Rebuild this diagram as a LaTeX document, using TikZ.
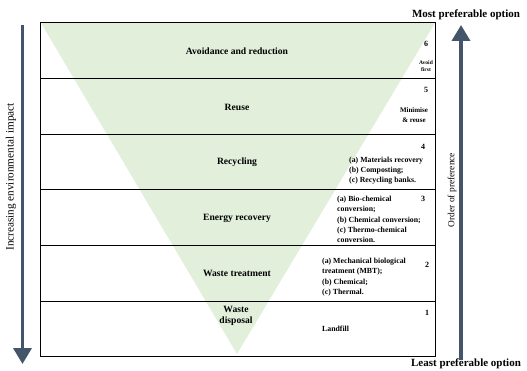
\documentclass[tikz,border=0pt]{standalone}
\usepackage{fontspec}
\setmainfont{Liberation Serif}
\usetikzlibrary{arrows.meta,positioning}
\definecolor{hiergreen}{RGB}{226,239,218}
\definecolor{arrowblue}{RGB}{68,84,106}
\begin{document}
\begin{tikzpicture}[x=1pt, y=-1pt,
  level/.style={font=\bfseries\fontsize{9.6}{11.5}\selectfont, align=center},
  note/.style={font=\bfseries\fontsize{7.8}{10.3}\selectfont, align=left, anchor=west, inner sep=0pt},
  num/.style={font=\bfseries\fontsize{8}{9}\selectfont, inner sep=0pt},
  side/.style={font=\bfseries\fontsize{11}{13}\selectfont},
  bigarrow/.style={arrowblue, line width=3.5pt, -{Triangle[length=16pt,width=18pt]}}]
\useasboundingbox (0,0) rectangle (527,371);
% green triangle behind the rows
\fill[hiergreen] (41,23) -- (435,23) -- (237,354) -- cycle;
\draw[line width=1pt] (40,23) rectangle (435,356);
\foreach \y in {79,135,190,246,301}
  \draw[line width=1pt] (40,\y) -- (435,\y);
% levels
\node[level] (avoid) at (237,51) {Avoidance and reduction};
\node[level] (reuse) at (237,107) {Reuse};
\node[level] (recyc) at (237,162) {Recycling};
\node[level] (energy) at (237,218) {Energy recovery};
\node[level] (treat) at (237,273) {Waste treatment};
\node[level] (disp) at (236,316) {Waste\\disposal};
% numbers and notes
\node[num] (n6) at (426,44) {6};
\node[font=\bfseries\fontsize{5.5}{7}\selectfont, align=center, inner sep=0pt] (avoidfirst) at (426,66) {Avoid\\first};
\node[num] (n5) at (426,90) {5};
\node[font=\bfseries\fontsize{7}{9.5}\selectfont, align=center, inner sep=0pt] (minim) at (414,115) {Minimise\\\& reuse};
\node[num] (n4) at (423,147) {4};
\node[note] (recnote) at (349,170.5) {(a) Materials recovery\\(b) Composting;\\(c) Recycling banks.};
\node[num] (n3) at (423,199) {3};
\node[note, font=\bfseries\fontsize{7.8}{10.2}\selectfont] (ennote) at (337,219.5) {(a) Bio-chemical\\conversion;\\(b) Chemical conversion;\\(c) Thermo-chemical\\conversion.};
\node[num] (n2) at (427,265) {2};
\node[note] (trnote) at (322,277) {(a) Mechanical biological\\treatment (MBT);\\(b) Chemical;\\(c) Thermal.};
\node[num] (n1) at (427,313) {1};
\node[note] (landfill) at (322,329) {Landfill};
% side arrows
\coordinate (ltop) at (22.5,25);
\coordinate (lbot) at (22.5,364);
\draw[bigarrow] (ltop) -- (lbot);
\node[font=\fontsize{11.2}{13}\selectfont, rotate=90] (impact) at (11,177) {Increasing environmental impact};
\coordinate (rbot) at (461,360);
\coordinate (rtop) at (461,25);
\draw[bigarrow] (rbot) -- (rtop);
\node[font=\fontsize{9.4}{11}\selectfont, rotate=90] (order) at (452,190) {Order of preference};
\node[side] (most) at (466,15) {Most preferable option};
\node[side] (least) at (466,364) {Least preferable option};
\end{tikzpicture}
\end{document}
